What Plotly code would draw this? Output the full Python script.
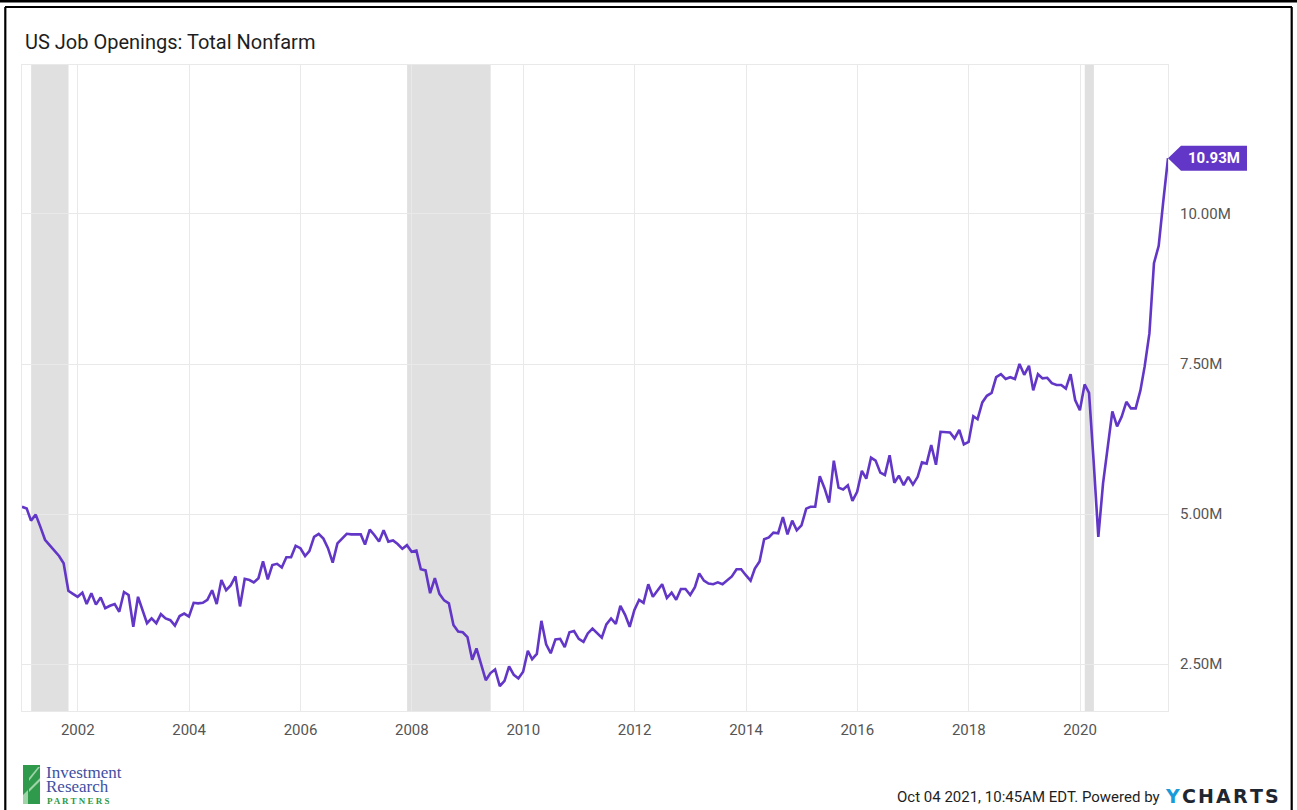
import pandas as pd
import plotly.graph_objects as go

# ---------------- data ----------------
start_month = "2000-12-31"
job_openings_m = [
    5.12, 5.09, 4.89, 4.99, 4.79, 4.57, 4.48, 4.39, 4.30, 4.18,
    3.72, 3.67, 3.62, 3.69, 3.50, 3.68, 3.49, 3.61, 3.43, 3.47,
    3.50, 3.37, 3.70, 3.65, 3.12, 3.62, 3.40, 3.18, 3.26, 3.18,
    3.33, 3.26, 3.23, 3.14, 3.30, 3.34, 3.29, 3.52, 3.51, 3.52,
    3.57, 3.73, 3.50, 3.90, 3.73, 3.81, 3.96, 3.46, 3.92, 3.90,
    3.86, 3.93, 4.21, 3.91, 4.15, 4.17, 4.11, 4.28, 4.28, 4.47,
    4.43, 4.30, 4.38, 4.62, 4.67, 4.59, 4.43, 4.19, 4.51, 4.59,
    4.67, 4.66, 4.66, 4.66, 4.49, 4.74, 4.65, 4.54, 4.73, 4.54,
    4.56, 4.50, 4.42, 4.48, 4.37, 4.39, 4.08, 4.06, 3.68, 3.93,
    3.67, 3.56, 3.51, 3.15, 3.04, 3.03, 2.95, 2.57, 2.76, 2.51,
    2.23, 2.35, 2.41, 2.13, 2.22, 2.46, 2.32, 2.26, 2.37, 2.72,
    2.58, 2.67, 3.22, 2.83, 2.68, 2.91, 2.92, 2.78, 3.03, 3.05,
    2.92, 2.87, 3.01, 3.09, 3.02, 2.94, 3.16, 3.26, 3.17, 3.47,
    3.32, 3.12, 3.40, 3.57, 3.52, 3.83, 3.62, 3.73, 3.83, 3.60,
    3.69, 3.57, 3.75, 3.75, 3.65, 3.78, 4.01, 3.89, 3.84, 3.83,
    3.86, 3.83, 3.89, 3.96, 4.08, 4.08, 3.98, 3.89, 4.09, 4.21,
    4.58, 4.61, 4.69, 4.68, 4.95, 4.66, 4.89, 4.73, 4.81, 5.09,
    5.12, 5.12, 5.63, 5.43, 5.19, 5.89, 5.44, 5.41, 5.48, 5.22,
    5.37, 5.72, 5.59, 5.94, 5.89, 5.69, 5.65, 5.98, 5.52, 5.64,
    5.48, 5.62, 5.49, 5.62, 5.86, 5.84, 6.15, 5.82, 6.37, 6.36,
    6.36, 6.26, 6.40, 6.16, 6.20, 6.63, 6.58, 6.86, 6.97, 7.02,
    7.28, 7.33, 7.25, 7.28, 7.25, 7.50, 7.32, 7.47, 7.06, 7.33,
    7.26, 7.27, 7.18, 7.15, 7.15, 7.09, 7.33, 6.90, 6.73, 7.16,
    7.02, 5.85, 4.62, 5.51, 6.12, 6.71, 6.46, 6.62, 6.87, 6.76,
    6.76, 7.06, 7.46, 8.01, 9.18, 9.47, 10.21, 10.93,
]
dates = pd.date_range(start_month, periods=len(job_openings_m), freq="ME")

recession_starts = ["2001-03-01", "2007-12-01", "2020-02-01"]
recession_ends = ["2001-11-01", "2009-06-01", "2020-04-01"]

x_tick_years = [2002, 2004, 2006, 2008, 2010, 2012, 2014, 2016, 2018, 2020]
y_tick_values = [2.5, 5.0, 7.5, 10.0]
y_tick_labels = ["2.50M", "5.00M", "7.50M", "10.00M"]
y_range = [1.717, 12.483]

title_text = "US Job Openings: Total Nonfarm"
footer_text = "Oct 04 2021, 10:45AM EDT. Powered by"

# ---------------- layout geometry ----------------
W, H = 1297, 810
L, R, T, B = 22, 1168, 65, 711
PW, PH = R - L, B - T
PX_PER_M = PH / (y_range[1] - y_range[0])


def px(x):
    return (x - L) / PW


def py(y):
    return (B - y) / PH


LINE = "#6236c6"
GRID = "#e9e9e9"
SHADE = "#e0e0e0"
FONT = "Roboto"

fig = go.Figure()
fig.add_trace(go.Scatter(
    x=dates, y=job_openings_m, mode="lines",
    line=dict(color=LINE, width=2.6), hoverinfo="skip", showlegend=False,
))

shapes = []
for s, e in zip(recession_starts, recession_ends):
    shapes.append(dict(type="rect", xref="x", yref="paper", x0=s, x1=e, y0=0, y1=1,
                       fillcolor=SHADE, line=dict(width=0), layer="below"))

# value tag at the last point (last point sits on the right edge, paper x = 1)
last_v = job_openings_m[-1]
hh = 12.5 / PX_PER_M
tag_path = (f"M 1,{last_v} L {1 + 13 / PW},{last_v + hh} L {1 + 79 / PW},{last_v + hh} "
            f"L {1 + 79 / PW},{last_v - hh} L {1 + 13 / PW},{last_v - hh} Z")
shapes.append(dict(type="path", xref="paper", yref="y", path=tag_path,
                   fillcolor=LINE, line=dict(width=0), layer="above"))

# outer frame (black borders of the picture)
shapes.append(dict(type="rect", xref="paper", yref="paper",
                   x0=px(-5), x1=px(W + 5), y0=py(2.6), y1=py(-5),
                   fillcolor="black", line=dict(width=0)))
shapes.append(dict(type="line", xref="paper", yref="paper",
                   x0=px(5), x1=px(1292), y0=py(7), y1=py(7),
                   line=dict(color="black", width=2.2)))
shapes.append(dict(type="line", xref="paper", yref="paper",
                   x0=px(5.3), x1=px(5.3), y0=py(7), y1=py(H + 5),
                   line=dict(color="black", width=2.2)))
shapes.append(dict(type="line", xref="paper", yref="paper",
                   x0=px(1291.7), x1=px(1291.7), y0=py(7), y1=py(H + 5),
                   line=dict(color="black", width=2.2)))

# logo icon
shapes.append(dict(type="rect", xref="paper", yref="paper",
                   x0=px(23), x1=px(40), y0=py(804), y1=py(765),
                   fillcolor="#2f9a4c", line=dict(width=0)))
shapes.append(dict(type="path", xref="paper", yref="paper",
                   path=f"M {px(23)},{py(804)} L {px(28)},{py(804)} L {px(28)},{py(790)} L {px(23)},{py(795)} Z",
                   fillcolor="#9fd3a8", line=dict(width=0)))
shapes.append(dict(type="path", xref="paper", yref="paper",
                   path=f"M {px(29)},{py(789)} L {px(40)},{py(778)} L {px(40)},{py(781)} L {px(29)},{py(792)} Z",
                   fillcolor="#9fd3a8", line=dict(width=0)))
shapes.append(dict(type="path", xref="paper", yref="paper",
                   path=f"M {px(29)},{py(778)} L {px(38)},{py(767)} L {px(40)},{py(767)} L {px(29)},{py(781)} Z",
                   fillcolor="#9fd3a8", line=dict(width=0)))

annotations = [
    dict(text=title_text, xref="paper", yref="paper", x=px(23), y=py(42),
         xanchor="left", yanchor="middle", showarrow=False,
         font=dict(family=FONT, size=20, color="#1e1e1e")),
    dict(text=f"<b>{last_v:.2f}M</b>", xref="paper", yref="y",
         x=1 + 46 / PW, y=last_v, xanchor="center", yanchor="middle",
         showarrow=False, font=dict(family=FONT, size=15, color="white")),
    dict(text=footer_text, xref="paper", yref="paper", x=px(1162), y=py(797),
         xanchor="right", yanchor="middle", showarrow=False,
         font=dict(family=FONT, size=15, color="#1e1e1e")),
    dict(text="Investment", xref="paper", yref="paper", x=px(44), y=py(772),
         xanchor="left", yanchor="middle", showarrow=False,
         font=dict(family="Liberation Serif", size=17, color="#3e4fa3")),
    dict(text="Research", xref="paper", yref="paper", x=px(44), y=py(786),
         xanchor="left", yanchor="middle", showarrow=False,
         font=dict(family="Liberation Serif", size=17, color="#3e4fa3")),
    dict(text="<b>P A R T N E R S</b>", xref="paper", yref="paper", x=px(45), y=py(800.5),
         xanchor="left", yanchor="middle", showarrow=False,
         font=dict(family="Liberation Serif", size=9, color="#2e9a47")),
]

brand_letters = ["Y", "C", "H", "A", "R", "T", "S"]
brand_colors = ["#1b9ad8"] + ["#1f2630"] * 6
brand_x = [1172, 1189, 1206, 1223, 1240, 1256, 1272]
for ch, col, bx in zip(brand_letters, brand_colors, brand_x):
    annotations.append(dict(text=f"<b>{ch}</b>", xref="paper", yref="paper",
                            x=px(bx), y=py(796), xanchor="center", yanchor="middle",
                            showarrow=False,
                            font=dict(family="DejaVu Sans", size=19, color=col)))

fig.update_layout(
    width=W, height=H,
    margin=dict(l=L, r=W - R, t=T, b=H - B, pad=0),
    paper_bgcolor="white", plot_bgcolor="white",
    showlegend=False,
    shapes=shapes, annotations=annotations,
    xaxis=dict(
        type="date", range=[dates[0], dates[-1]],
        tickvals=[f"{y}-01-01" for y in x_tick_years],
        ticktext=[str(y) for y in x_tick_years],
        showgrid=True, gridcolor=GRID, gridwidth=1,
        showline=True, linecolor=GRID, linewidth=1, mirror=True,
        zeroline=False, ticks="outside", ticklen=5, tickcolor="rgba(0,0,0,0)",
        tickfont=dict(family=FONT, size=15, color="#555555"),
    ),
    yaxis=dict(
        range=y_range, side="right",
        tickvals=y_tick_values, ticktext=y_tick_labels,
        showgrid=True, gridcolor=GRID, gridwidth=1,
        showline=True, linecolor=GRID, linewidth=1, mirror=True,
        zeroline=False, ticks="outside", ticklen=8, tickcolor="rgba(0,0,0,0)",
        tickfont=dict(family=FONT, size=15, color="#555555"),
    ),
)

fig.write_html("out.html", config={"displayModeBar": False},
               post_script="document.body.style.margin='0';document.body.style.padding='0';")
